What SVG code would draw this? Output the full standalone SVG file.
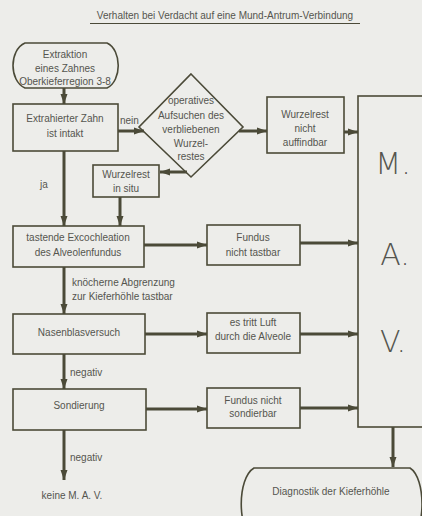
<svg xmlns="http://www.w3.org/2000/svg" width="422" height="516" viewBox="0 0 422 516">
<defs>
<marker id="ah" markerUnits="userSpaceOnUse" markerWidth="11" markerHeight="8" refX="10" refY="4" orient="auto">
<path d="M0,0.5 L10,4 L0,7.5 Z" fill="#4b4a38"/>
</marker>
<style>
.bx{fill:none;stroke:#4b4a38;stroke-width:1.6}
.t{font-family:"Liberation Sans",Arial,sans-serif;font-size:10px;fill:#55554f;text-anchor:middle}
.l{font-family:"Liberation Sans",Arial,sans-serif;font-size:10px;fill:#55554f}
.c{fill:none;stroke:#4b4a38;stroke-width:3;marker-end:url(#ah)}
.big{font-family:"DejaVu Sans",sans-serif;font-weight:200;font-size:30px;fill:#55554f;text-anchor:middle}
</style>
</defs>
<rect width="422" height="516" fill="#ededea"/>
<g id="title">
<text class="t" x="225" y="19" font-size="10.5">Verhalten bei Verdacht auf eine Mund-Antrum-Verbindung</text>
<line x1="90" y1="23.5" x2="360" y2="23.5" stroke="#4b4a38" stroke-width="1"/>
</g>
<g id="start">
<path class="bx" d="M25 43 H107 C122 50 122 81 107 88 H25 C9 81 9 50 25 43 Z"/>
<text class="t" x="65" y="58">Extraktion</text>
<text class="t" x="65" y="72">eines Zahnes</text>
<text class="t" x="65" y="85">Oberkieferregion 3-8</text>
</g>
<g id="zahn">
<rect class="bx" x="13" y="104" width="105" height="47"/>
<text class="t" x="65" y="122">Extrahierter Zahn</text>
<text class="t" x="65" y="137">ist intakt</text>
</g>
<g id="operativ">
<path class="bx" d="M191 74 L243 127 L191 177 L139 127 Z"/>
<text class="t" x="191" y="104">operatives</text>
<text class="t" x="191" y="119">Aufsuchen des</text>
<text class="t" x="191" y="133">verbliebenen</text>
<text class="t" x="191" y="147">Wurzel-</text>
<text class="t" x="191" y="160">restes</text>
</g>
<g id="nichtauffindbar">
<rect class="bx" x="267" y="97" width="77" height="56"/>
<text class="t" x="305" y="118">Wurzelrest</text>
<text class="t" x="305" y="132">nicht</text>
<text class="t" x="305" y="146">auffindbar</text>
</g>
<g id="insitu">
<rect class="bx" x="93" y="165" width="66" height="32"/>
<text class="t" x="126" y="178">Wurzelrest</text>
<text class="t" x="126" y="192">in situ</text>
</g>
<g id="excochleation">
<rect class="bx" x="13" y="226" width="131" height="41"/>
<text class="t" x="78" y="241">tastende Excochleation</text>
<text class="t" x="78" y="256">des Alveolenfundus</text>
</g>
<g id="fundustast">
<rect class="bx" x="207" y="225" width="93" height="40"/>
<text class="t" x="253" y="241">Fundus</text>
<text class="t" x="253" y="256">nicht tastbar</text>
</g>
<g id="nasen">
<rect class="bx" x="13" y="314" width="132" height="40"/>
<text class="t" x="79" y="336">Nasenblasversuch</text>
</g>
<g id="luft">
<rect class="bx" x="207" y="313" width="93" height="40"/>
<text class="t" x="253" y="326">es tritt Luft</text>
<text class="t" x="253" y="340">durch die Alveole</text>
</g>
<g id="sondierung">
<rect class="bx" x="13" y="389" width="133" height="41"/>
<text class="t" x="79" y="409">Sondierung</text>
</g>
<g id="sondierbar">
<rect class="bx" x="207" y="388" width="93" height="40"/>
<text class="t" x="253" y="404">Fundus nicht</text>
<text class="t" x="253" y="417">sondierbar</text>
</g>
<g id="mav">
<rect class="bx" x="358" y="96" width="80" height="331"/>
<text class="big" x="393" y="174">M.</text>
<text class="big" x="395" y="265">A.</text>
<text class="big" x="393" y="352">V.</text>
</g>
<g id="keine">
<text class="t" x="72" y="499">keine M. A. V.</text>
</g>
<g id="diagnostik">
<path class="bx" d="M254 468 H410 C426 478 426 530 410 540 H254 C237 530 237 478 254 468 Z"/>
<text class="t" x="331" y="495">Diagnostik der Kieferhöhle</text>
</g>
<g id="connectors">
<line class="c" x1="64" y1="88" x2="64" y2="104"/>
<line class="c" x1="118" y1="131" x2="144" y2="131"/>
<line class="c" x1="239" y1="131" x2="267" y2="131"/>
<line class="c" x1="344" y1="132" x2="358" y2="132"/>
<line class="c" x1="187" y1="172" x2="160" y2="172"/>
<line class="c" x1="64" y1="151" x2="64" y2="226"/>
<line class="c" x1="120" y1="197" x2="120" y2="226"/>
<line class="c" x1="144" y1="245" x2="207" y2="245"/>
<line class="c" x1="300" y1="243" x2="358" y2="243"/>
<line class="c" x1="64" y1="267" x2="64" y2="314"/>
<line class="c" x1="145" y1="334" x2="207" y2="334"/>
<line class="c" x1="300" y1="334" x2="358" y2="334"/>
<line class="c" x1="64" y1="354" x2="64" y2="389"/>
<line class="c" x1="146" y1="409" x2="207" y2="409"/>
<line class="c" x1="300" y1="408" x2="358" y2="408"/>
<line class="c" x1="64" y1="430" x2="64" y2="480"/>
<line class="c" x1="393" y1="427" x2="393" y2="467"/>
<text class="l" x="120" y="124">nein</text>
<text class="l" x="40" y="188">ja</text>
<text class="l" x="72" y="286">knöcherne Abgrenzung</text>
<text class="l" x="72" y="300">zur Kieferhöhle tastbar</text>
<text class="l" x="70" y="376">negativ</text>
<text class="l" x="70" y="461">negativ</text>
</g>
</svg>
